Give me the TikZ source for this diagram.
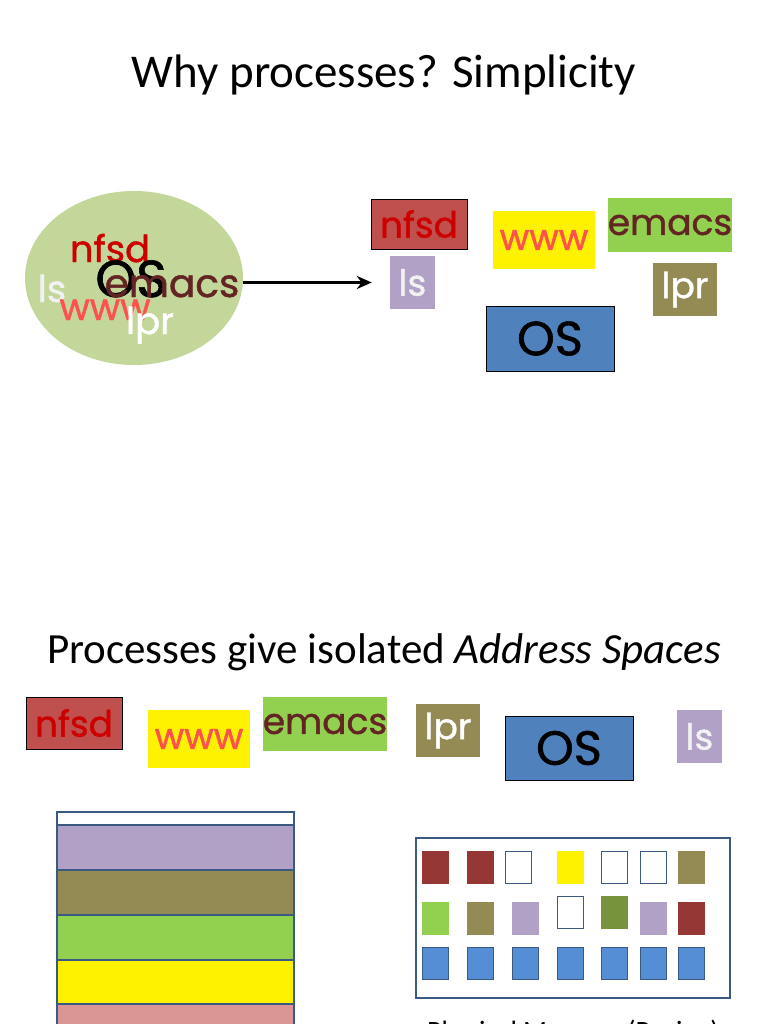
\documentclass[tikz,border=0pt]{standalone}
\usepackage{fontspec}
\setmainfont{Carlito}
\newfontfamily\labelfont[FakeBold=1.2]{Poppins}
\usetikzlibrary{shapes.geometric, arrows.meta}

\definecolor{boxred}{RGB}{192,80,77}
\definecolor{txtred}{RGB}{204,0,0}
\definecolor{txtpink}{RGB}{255,80,80}
\definecolor{txtbrown}{RGB}{99,37,35}
\definecolor{lav}{RGB}{178,161,199}
\definecolor{olive}{RGB}{148,138,84}
\definecolor{lgreen}{RGB}{146,208,80}
\definecolor{dgreen}{RGB}{119,147,60}
\definecolor{osblue}{RGB}{79,129,189}
\definecolor{pageblue}{RGB}{85,142,213}
\definecolor{darkred}{RGB}{149,55,53}
\definecolor{pink}{RGB}{217,150,148}
\definecolor{frame}{RGB}{59,90,130}
\definecolor{blobgreen}{RGB}{196,215,155}
\definecolor{offwhite}{RGB}{242,242,242}

\begin{document}
\begin{tikzpicture}[
    x=1pt, y=-1pt,
    title/.style={
        anchor=base,
        font=\fontsize{47}{54}\selectfont
    },
    proc/.style={
        rectangle,
        inner sep=0pt,
        font=\labelfont\fontsize{36}{42}\selectfont
    },
    big/.style={
        font=\labelfont\fontsize{48}{56}\selectfont
    },
    blobtext/.style={
        anchor=base,
        inner sep=0pt,
        font=\labelfont\fontsize{37}{44}\selectfont
    },
    arrow/.style={
        -{Stealth[length=15pt, width=13pt]},
        line width=3.5pt,
        black
    },
    bar/.style={
        draw=frame,
        line width=1.5pt
    },
    page/.style={
        rectangle,
        inner sep=0pt,
        minimum width=26pt,
        minimum height=32pt
    }
]
\useasboundingbox[fill=white] (0,0) rectangle (768,1024);

% Titles
\node[title] (t1) at (384,88) {Why processes? Simplicity};
\node[title, font=\fontsize{43}{50}\selectfont] (t2) at (384,663) {Processes give isolated \textit{Address Spaces}};

% Everything in one blob
\node[ellipse, fill=blobgreen, minimum width=218pt, minimum height=174pt] (blob) at (134,278) {};
\node[blobtext, text=txtred] (bnfsd) at (110,262) {nfsd};
\node[blobtext, big, font=\labelfont\fontsize{52}{60}\selectfont] (bos) at (131,297) {OS};
\node[blobtext, text=txtbrown, font=\labelfont\fontsize{39}{46}\selectfont] (bemacs) at (172,297) {emacs};
\node[blobtext, text=offwhite] (bls) at (52,302) {ls};
\node[blobtext, text=txtpink] (bwww) at (105,320) {www};
\node[blobtext, text=white] (blpr) at (150,334) {lpr};

% Separate processes
\node[proc, fill=boxred, draw=black, text=txtred, minimum width=96pt, minimum height=50pt] (nfsd) at (419,224) {nfsd};
\node[proc, fill=lav, text=offwhite, minimum width=45pt, minimum height=53pt] (ls) at (412.5,282.5) {ls};
\node[proc, fill=yellow, text=txtpink, minimum width=102pt, minimum height=58pt] (www) at (544,240) {www};
\node[proc, fill=lgreen, text=txtbrown, minimum width=124pt, minimum height=54pt] (emacs) at (670,225) {emacs};
\node[proc, fill=olive, text=white, minimum width=64pt, minimum height=53pt] (lpr) at (685,289.5) {lpr};
\node[proc, big, fill=osblue, draw=black, minimum width=128pt, minimum height=65pt] (os) at (550,338.5) {OS};

\draw[arrow, shorten >=18pt] (blob.east |- ls.west) -- (ls.west);

% Address spaces row
\node[proc, fill=boxred, draw=black, text=txtred, minimum width=96pt, minimum height=52pt] (anfsd) at (74,723) {nfsd};
\node[proc, fill=yellow, text=txtpink, minimum width=102pt, minimum height=58pt] (awww) at (199,739) {www};
\node[proc, fill=lgreen, text=txtbrown, minimum width=124pt, minimum height=54pt] (aemacs) at (325,724) {emacs};
\node[proc, fill=olive, text=white, minimum width=64pt, minimum height=53pt] (alpr) at (448,730.5) {lpr};
\node[proc, big, fill=osblue, draw=black, minimum width=128pt, minimum height=64pt] (aos) at (569,748) {OS};
\node[proc, fill=lav, text=offwhite, minimum width=45pt, minimum height=53pt] (als) at (699.5,736.5) {ls};

% Stacked memory
\foreach \c/\ya/\yb in {white/812/825, lav/825/870, olive/870/915, lgreen/915/960, yellow/960/1004, pink/1004/1049}
    \draw[bar, fill=\c] (57,\ya) rectangle (294,\yb);

% Paged physical memory
\node[rectangle, draw=frame, line width=1.5pt, minimum width=314pt, minimum height=160pt] (mem) at (573,918) {};
\foreach \x/\c/\d [count=\i] in {435/darkred/darkred, 480/darkred/darkred, 518/white/frame, 570/yellow/yellow, 614/white/frame, 653/white/frame, 691/olive/olive}
    \node[page, fill=\c, draw=\d] (pa\i) at (\x,867) {};
\foreach \x/\y/\c/\d [count=\i] in {435/918/lgreen/lgreen, 480/918/olive/olive, 525/918/lav/lav, 570/912/white/frame, 614/912/dgreen/dgreen, 653/918/lav/lav, 691/918/darkred/darkred}
    \node[page, fill=\c, draw=\d] (pb\i) at (\x,\y) {};
\foreach \x [count=\i] in {435, 480, 525, 570, 614, 653, 691}
    \node[page, fill=pageblue, draw=frame, line width=1pt] (pc\i) at (\x,963.5) {};
\node[anchor=base, font=\fontsize{28}{34}\selectfont] (memlabel) at (573,1040) {Physical Memory (Paging)};

\end{tikzpicture}
\end{document}
